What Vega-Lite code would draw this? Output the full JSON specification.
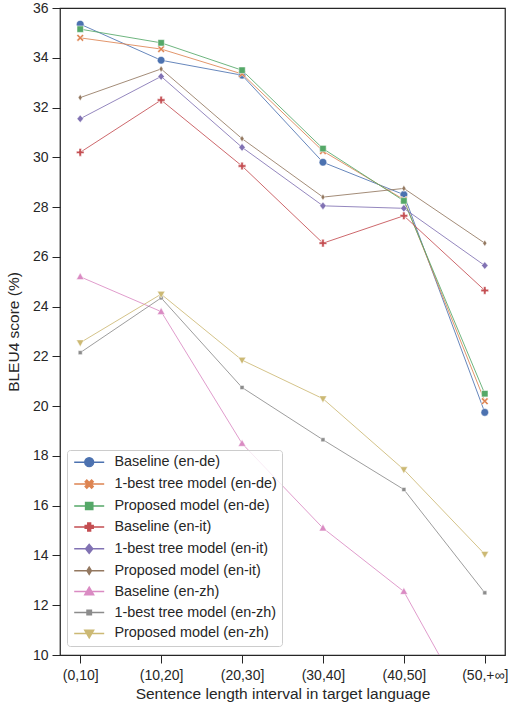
{
  "$schema": "https://vega.github.io/schema/vega-lite/v6.json",
  "width": 445,
  "height": 647,
  "autosize": "none",
  "padding": {"left": 60, "top": 8, "right": 3, "bottom": 50},
  "background": "white",
  "config": {
    "font": "Liberation Sans",
    "view": {"stroke": "#262626", "strokeWidth": 1.25},
    "axis": {
      "domain": false, "grid": false,
      "tickColor": "#262626", "tickSize": 8, "tickWidth": 1,
      "labelFont": "Liberation Sans", "labelFontSize": 14, "labelColor": "#262626",
      "titleFont": "Liberation Sans", "titleFontSize": 15.5, "titleFontWeight": "normal", "titleColor": "#262626"
    },
    "legend": {
      "orient": "none",
      "legendX": 7,
      "legendY": 442,
      "padding": 5,
      "strokeColor": "#cccccc",
      "fillColor": "rgba(255,255,255,0.8)",
      "cornerRadius": 3,
      "symbolSize": 64,
      "symbolStrokeWidth": 1.5,
      "symbolOpacity": 1,
      "symbolOffset": 10,
      "labelOffset": 18,
      "labelFont": "Liberation Sans",
      "labelFontSize": 14.4,
      "labelColor": "#262626",
      "rowPadding": 5.9,
      "labelLimit": 300
    }
  },
  "data": {
    "values": [
      {"interval": "(0,10]", "series": "Baseline (en-de)", "value": 35.35},
      {"interval": "(10,20]", "series": "Baseline (en-de)", "value": 33.9},
      {"interval": "(20,30]", "series": "Baseline (en-de)", "value": 33.3},
      {"interval": "(30,40]", "series": "Baseline (en-de)", "value": 29.8},
      {"interval": "(40,50]", "series": "Baseline (en-de)", "value": 28.5},
      {"interval": "(50,+∞]", "series": "Baseline (en-de)", "value": 19.75},
      {"interval": "(0,10]", "series": "1-best tree model (en-de)", "value": 34.8},
      {"interval": "(10,20]", "series": "1-best tree model (en-de)", "value": 34.35},
      {"interval": "(20,30]", "series": "1-best tree model (en-de)", "value": 33.35},
      {"interval": "(30,40]", "series": "1-best tree model (en-de)", "value": 30.25},
      {"interval": "(40,50]", "series": "1-best tree model (en-de)", "value": 28.3},
      {"interval": "(50,+∞]", "series": "1-best tree model (en-de)", "value": 20.2},
      {"interval": "(0,10]", "series": "Proposed model (en-de)", "value": 35.15},
      {"interval": "(10,20]", "series": "Proposed model (en-de)", "value": 34.6},
      {"interval": "(20,30]", "series": "Proposed model (en-de)", "value": 33.5},
      {"interval": "(30,40]", "series": "Proposed model (en-de)", "value": 30.35},
      {"interval": "(40,50]", "series": "Proposed model (en-de)", "value": 28.25},
      {"interval": "(50,+∞]", "series": "Proposed model (en-de)", "value": 20.5},
      {"interval": "(0,10]", "series": "Baseline (en-it)", "value": 30.2},
      {"interval": "(10,20]", "series": "Baseline (en-it)", "value": 32.3},
      {"interval": "(20,30]", "series": "Baseline (en-it)", "value": 29.65},
      {"interval": "(30,40]", "series": "Baseline (en-it)", "value": 26.55},
      {"interval": "(40,50]", "series": "Baseline (en-it)", "value": 27.65},
      {"interval": "(50,+∞]", "series": "Baseline (en-it)", "value": 24.65},
      {"interval": "(0,10]", "series": "1-best tree model (en-it)", "value": 31.55},
      {"interval": "(10,20]", "series": "1-best tree model (en-it)", "value": 33.25},
      {"interval": "(20,30]", "series": "1-best tree model (en-it)", "value": 30.4},
      {"interval": "(30,40]", "series": "1-best tree model (en-it)", "value": 28.05},
      {"interval": "(40,50]", "series": "1-best tree model (en-it)", "value": 27.95},
      {"interval": "(50,+∞]", "series": "1-best tree model (en-it)", "value": 25.65},
      {"interval": "(0,10]", "series": "Proposed model (en-it)", "value": 32.4},
      {"interval": "(10,20]", "series": "Proposed model (en-it)", "value": 33.55},
      {"interval": "(20,30]", "series": "Proposed model (en-it)", "value": 30.75},
      {"interval": "(30,40]", "series": "Proposed model (en-it)", "value": 28.4},
      {"interval": "(40,50]", "series": "Proposed model (en-it)", "value": 28.75},
      {"interval": "(50,+∞]", "series": "Proposed model (en-it)", "value": 26.55},
      {"interval": "(0,10]", "series": "Baseline (en-zh)", "value": 25.2},
      {"interval": "(10,20]", "series": "Baseline (en-zh)", "value": 23.8},
      {"interval": "(20,30]", "series": "Baseline (en-zh)", "value": 18.5},
      {"interval": "(30,40]", "series": "Baseline (en-zh)", "value": 15.1},
      {"interval": "(40,50]", "series": "Baseline (en-zh)", "value": 12.55},
      {"interval": "(50,+∞]", "series": "Baseline (en-zh)", "value": 6.7},
      {"interval": "(0,10]", "series": "1-best tree model (en-zh)", "value": 22.15},
      {"interval": "(10,20]", "series": "1-best tree model (en-zh)", "value": 24.35},
      {"interval": "(20,30]", "series": "1-best tree model (en-zh)", "value": 20.75},
      {"interval": "(30,40]", "series": "1-best tree model (en-zh)", "value": 18.65},
      {"interval": "(40,50]", "series": "1-best tree model (en-zh)", "value": 16.65},
      {"interval": "(50,+∞]", "series": "1-best tree model (en-zh)", "value": 12.5},
      {"interval": "(0,10]", "series": "Proposed model (en-zh)", "value": 22.55},
      {"interval": "(10,20]", "series": "Proposed model (en-zh)", "value": 24.5},
      {"interval": "(20,30]", "series": "Proposed model (en-zh)", "value": 21.85},
      {"interval": "(30,40]", "series": "Proposed model (en-zh)", "value": 20.3},
      {"interval": "(40,50]", "series": "Proposed model (en-zh)", "value": 17.45},
      {"interval": "(50,+∞]", "series": "Proposed model (en-zh)", "value": 14.05}
    ]
  },
  "encoding": {
    "x": {
      "field": "interval", "type": "nominal", "sort": null,
      "scale": {"type": "point", "padding": 0.25},
      "axis": {"title": "Sentence length interval in target language", "labelAngle": 0, "labelPadding": 5, "titlePadding": 4}
    },
    "y": {
      "field": "value", "type": "quantitative",
      "scale": {"domain": [10, 36], "nice": false, "zero": false},
      "axis": {"title": "BLEU4 score (%)", "values": [10,12,14,16,18,20,22,24,26,28,30,32,34,36], "labelPadding": 4, "titlePadding": 11}
    }
  },
  "layer": [
    {
      "mark": {"type": "line", "strokeWidth": 1, "opacity": 0.85, "clip": true},
      "encoding": {
        "detail": {"field": "series"},
        "color": {
          "field": "series", "type": "nominal", "legend": null,
          "scale": {
            "domain": ["Baseline (en-de)", "1-best tree model (en-de)", "Proposed model (en-de)", "Baseline (en-it)", "1-best tree model (en-it)", "Proposed model (en-it)", "Baseline (en-zh)", "1-best tree model (en-zh)", "Proposed model (en-zh)"],
            "range": ["#4C72B0", "#DD8452", "#55A868", "#C44E52", "#8172B3", "#937860", "#DA8BC3", "#8C8C8C", "#CCB974"]
          }
        }
      }
    },
    {
      "mark": {"type": "point", "filled": true, "size": 64, "opacity": 1, "stroke": "white", "strokeWidth": 0.5, "clip": true},
      "encoding": {
        "color": {"field": "series", "type": "nominal", "legend": null},
        "shape": {
          "field": "series", "type": "nominal", "legend": null,
          "scale": {
            "domain": ["Baseline (en-de)", "1-best tree model (en-de)", "Proposed model (en-de)", "Baseline (en-it)", "1-best tree model (en-it)", "Proposed model (en-it)", "Baseline (en-zh)", "1-best tree model (en-zh)", "Proposed model (en-zh)"],
            "range": [
              "M0.95,0A0.95,0.95,0,1,1,-0.95,0A0.95,0.95,0,1,1,0.95,0Z",
              "M-0.9,-0.55L-0.55,-0.9L0,-0.35L0.55,-0.9L0.9,-0.55L0.35,0L0.9,0.55L0.55,0.9L0,0.35L-0.55,0.9L-0.9,0.55L-0.35,0Z",
              "M-0.8,-0.8H0.8V0.8H-0.8Z",
              "M-0.3,-0.95H0.3V-0.3H0.95V0.3H0.3V0.95H-0.3V0.3H-0.95V-0.3H-0.3Z",
              "M0,-0.95L0.8,0L0,0.95L-0.8,0Z",
              "M0,-0.8L0.5,0L0,0.8L-0.5,0Z",
              "M0,-1L0.95,0.7H-0.95Z",
              "M-0.5,-0.5H0.5V0.5H-0.5Z",
              "M0,1L0.95,-0.7H-0.95Z"
            ]
          }
        }
      }
    },
    {
      "transform": [{"filter": "datum.value < 0"}],
      "mark": {"type": "point", "filled": true, "size": 64, "clip": true},
      "encoding": {
        "fill": {
          "field": "series", "type": "nominal", "title": null,
          "scale": {
            "domain": ["Baseline (en-de)", "1-best tree model (en-de)", "Proposed model (en-de)", "Baseline (en-it)", "1-best tree model (en-it)", "Proposed model (en-it)", "Baseline (en-zh)", "1-best tree model (en-zh)", "Proposed model (en-zh)"],
            "range": ["#4C72B0", "#DD8452", "#55A868", "#C44E52", "#8172B3", "#937860", "#DA8BC3", "#8C8C8C", "#CCB974"]
          }
        },
        "stroke": {
          "field": "series", "type": "nominal", "title": null,
          "scale": {
            "domain": ["Baseline (en-de)", "1-best tree model (en-de)", "Proposed model (en-de)", "Baseline (en-it)", "1-best tree model (en-it)", "Proposed model (en-it)", "Baseline (en-zh)", "1-best tree model (en-zh)", "Proposed model (en-zh)"],
            "range": ["#4C72B0", "#DD8452", "#55A868", "#C44E52", "#8172B3", "#937860", "#DA8BC3", "#8C8C8C", "#CCB974"]
          }
        },
        "shape": {
          "field": "series", "type": "nominal", "title": null,
          "scale": {
            "domain": ["Baseline (en-de)", "1-best tree model (en-de)", "Proposed model (en-de)", "Baseline (en-it)", "1-best tree model (en-it)", "Proposed model (en-it)", "Baseline (en-zh)", "1-best tree model (en-zh)", "Proposed model (en-zh)"],
            "range": [
              "M-3.75,0H3.75M1.1,0A1.1,1.1,0,1,1,-1.1,0A1.1,1.1,0,1,1,1.1,0Z",
              "M-3.75,0H3.75M-1,-0.6L-0.6,-1L0,-0.4L0.6,-1L1,-0.6L0.4,0L1,0.6L0.6,1L0,0.4L-0.6,1L-1,0.6L-0.4,0Z",
              "M-3.75,0H3.75M-0.9,-0.9H0.9V0.9H-0.9Z",
              "M-3.75,0H3.75M-0.35,-1H0.35V-0.35H1V0.35H0.35V1H-0.35V0.35H-1V-0.35H-0.35Z",
              "M-3.75,0H3.75M0,-1.1L0.9,0L0,1.1L-0.9,0Z",
              "M-3.75,0H3.75M0,-0.9L0.55,0L0,0.9L-0.55,0Z",
              "M-3.75,0H3.75M0,-1.1L1.1,0.8H-1.1Z",
              "M-3.75,0H3.75M-0.55,-0.55H0.55V0.55H-0.55Z",
              "M-3.75,0H3.75M0,1.1L1.1,-0.8H-1.1Z"
            ]
          }
        }
      }
    }
  ],
  "resolve": {
    "scale": {"shape": "independent", "fill": "independent", "stroke": "independent"},
    "legend": {"shape": "independent", "fill": "independent", "stroke": "independent"}
  }
}
